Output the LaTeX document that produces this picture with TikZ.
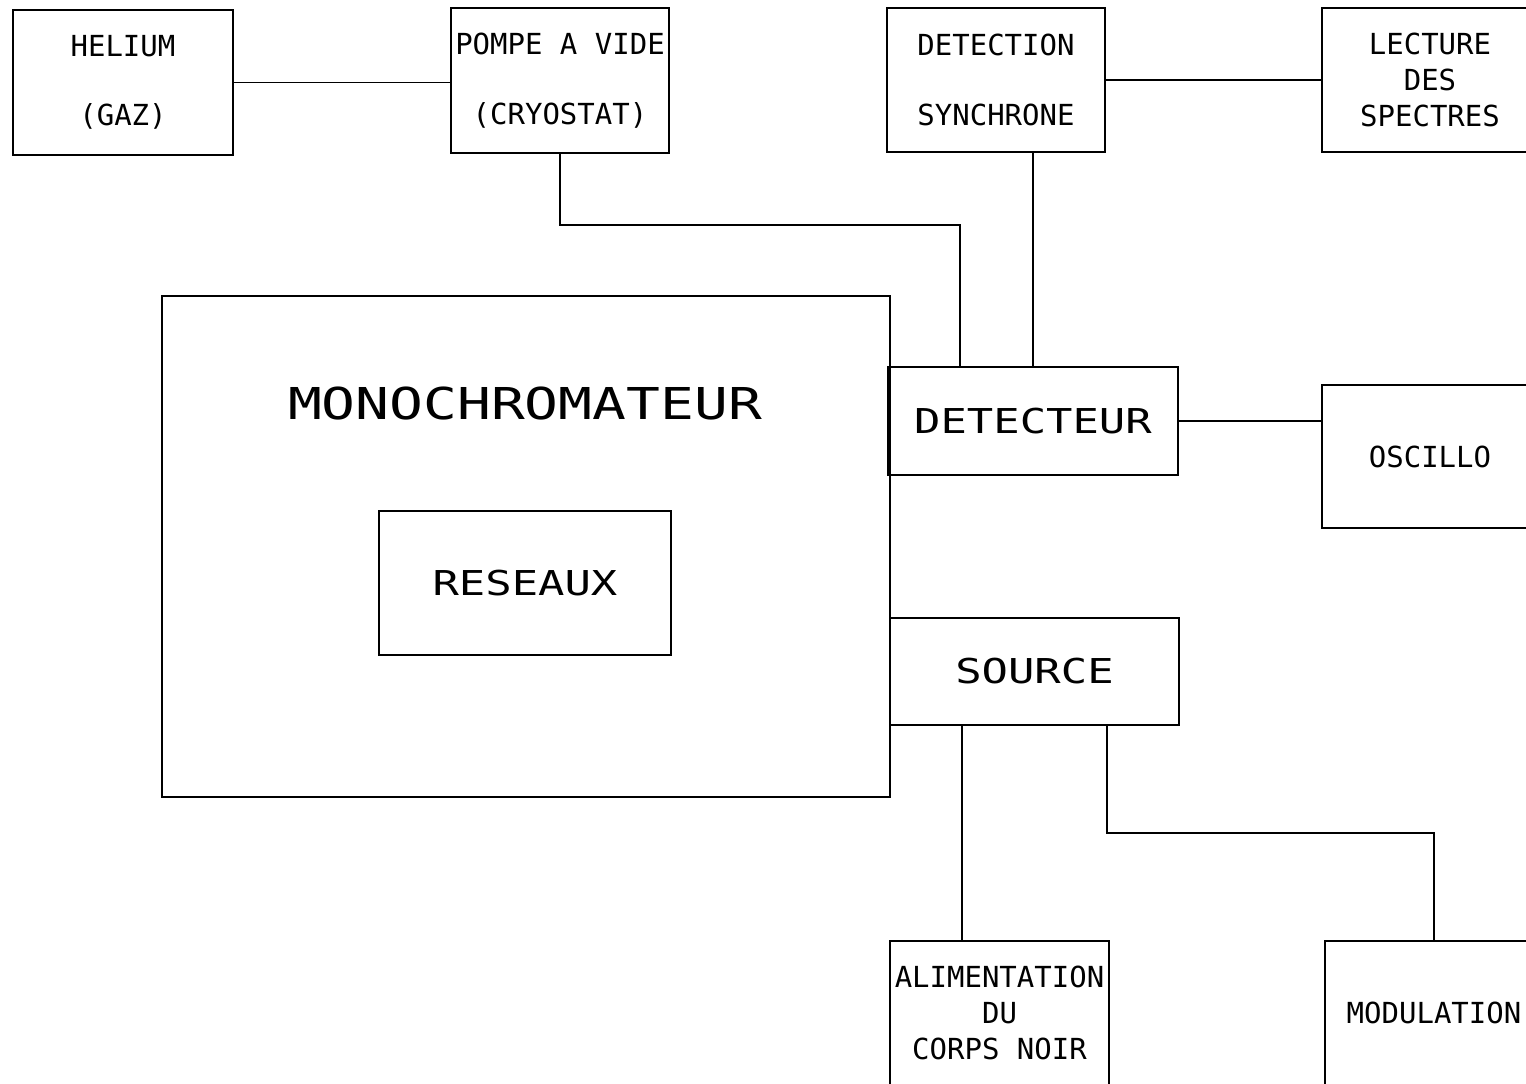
\documentclass[tikz,border=0pt]{standalone}
\usepackage{fontspec}
\usetikzlibrary{positioning,calc}
\newfontfamily\plotfont{DejaVu Sans Mono}
\newfontfamily\plotwide[FakeStretch=1.28]{DejaVu Sans Mono}

\begin{document}
\begin{tikzpicture}[x=0.02cm,y=-0.02cm,
    bloc/.style={draw,line width=1.1pt,inner sep=0pt,align=center,
      font=\plotfont\fontsize{16.5}{20.5}\selectfont},
    grand/.style={font=\plotwide\fontsize{19.5}{24}\selectfont},
    lien/.style={line width=1.1pt}]
  \path[use as bounding box,clip] (0,0) rectangle (1526,1083);
  % ligne du haut
  \node[bloc,minimum width=4.4cm,minimum height=2.9cm] (helium) at (123,82.5) {HELIUM\\[19pt](GAZ)};
  \node[bloc,minimum width=4.36cm,minimum height=2.9cm] (pompe) at (560,80.5) {POMPE A VIDE\\[19pt](CRYOSTAT)};
  \node[bloc,minimum width=4.36cm,minimum height=2.88cm] (detsync) at (996,80) {DETECTION\\[19pt]SYNCHRONE};
  \node[bloc,minimum width=4.32cm,minimum height=2.88cm] (lecture) at (1430,80) {LECTURE\\DES\\SPECTRES};
  % monochromateur
  \node[bloc,minimum width=14.56cm,minimum height=10.02cm] (mono) at (526,546.5) {};
  \node[font=\plotwide\fontsize{25}{30}\selectfont,inner sep=0pt] (monotitre) at (525,404) {MONOCHROMATEUR};
  \node[bloc,grand,minimum width=5.84cm,minimum height=2.88cm] (reseaux) at (525,583) {RESEAUX};
  % detecteur et source
  \node[bloc,grand,minimum width=5.8cm,minimum height=2.16cm] (detecteur) at (1033,421) {DETECTEUR};
  \node[bloc,minimum width=4.32cm,minimum height=2.86cm] (oscillo) at (1430,456.5) {OSCILLO};
  \node[bloc,grand,minimum width=5.78cm,minimum height=2.14cm] (source) at (1034.5,671.5) {SOURCE};
  \node[bloc,minimum width=4.38cm,minimum height=2.88cm] (alim) at (999.5,1013) {ALIMENTATION\\DU\\CORPS NOIR};
  \node[bloc,minimum width=4.36cm,minimum height=2.88cm] (modul) at (1434,1013) {MODULATION};
  % liaisons
  \coordinate (coudeP) at (0,225);
  \coordinate (coudeM) at (0,833);
  \coordinate (detA) at ($(detecteur.north west)!0.25!(detecteur.north east)$);
  \coordinate (srcA) at ($(source.south west)!0.25!(source.south east)$);
  \coordinate (srcB) at ($(source.south west)!0.75!(source.south east)$);
  \draw[lien] (helium.east) -- (helium.east -| pompe.west);
  \draw[lien] (detsync.east) -- (lecture.west);
  \draw[lien] (pompe.south) -- (pompe.south |- coudeP) -| (detA);
  \draw[lien] (detecteur.north) -- (detecteur.north |- detsync.south);
  \draw[lien] (detecteur.east) -- (detecteur.east -| oscillo.west);
  \draw[lien] (srcA) -- (srcA |- alim.north);
  \draw[lien] (srcB) -- (srcB |- coudeM) -| (modul.north);
\end{tikzpicture}
\end{document}
